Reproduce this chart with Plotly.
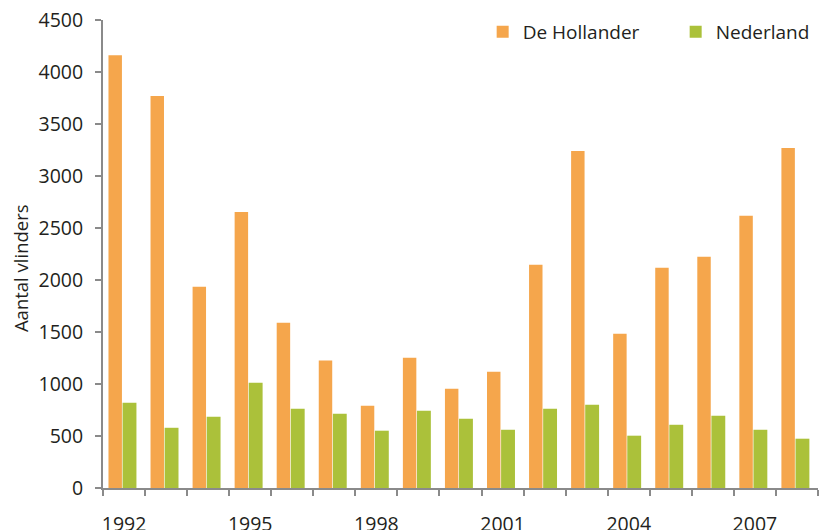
import plotly.graph_objects as go

years = list(range(1992, 2009))
de_hollander = [4160, 3770, 1935, 2655, 1590, 1225, 790, 1252, 955, 1118, 2146, 3240, 1483, 2117, 2223, 2617, 3270]
nederland = [820, 579, 685, 1012, 762, 714, 551, 743, 666, 560, 762, 800, 503, 608, 695, 560, 474]
label_years = [1992, 1995, 1998, 2001, 2004, 2007]
y_ticks = [0, 500, 1000, 1500, 2000, 2500, 3000, 3500, 4000, 4500]

ORANGE = "#F5A64C"
GREEN = "#ABC13A"
AXIS = "#8a8a8a"
TEXT = "#231F20"
FONT = "Open Sans"

fig = go.Figure()
fig.add_trace(go.Bar(x=years, y=de_hollander, name="De Hollander",
                     marker=dict(color=ORANGE, line=dict(width=0)),
                     width=0.32, offset=-0.37))
fig.add_trace(go.Bar(x=years, y=nederland, name="Nederland",
                     marker=dict(color=GREEN, line=dict(width=0)),
                     width=0.33, offset=-0.035))

fig.update_layout(
    width=827, height=530,
    margin=dict(l=95, r=17, t=12, b=50, autoexpand=False),
    paper_bgcolor="white", plot_bgcolor="white",
    font=dict(family=FONT, size=19, color=TEXT),
    barmode="overlay",
    showlegend=True,
    legend=dict(orientation="h", x=0.531, y=1.015, xanchor="left", yanchor="top",
                font=dict(size=19, color=TEXT), bgcolor="rgba(0,0,0,0)",
                itemwidth=30, traceorder="normal",
                entrywidth=148, entrywidthmode="pixels"),
    xaxis=dict(
        range=[years[0] - 0.5, years[-1] + 0.5],
        tickmode="array", tickvals=label_years, ticktext=[str(y) for y in label_years],
        ticks="outside", ticklen=0, ticklabelstandoff=18,
        ticklabeloverflow="allow",
        showline=True, linecolor=AXIS, linewidth=2,
        showgrid=False, zeroline=False, automargin=False,
        minor=dict(tickmode="array", tickvals=[y - 0.5 for y in years] + [years[-1] + 0.5],
                   ticks="outside", ticklen=6, tickcolor=AXIS, tickwidth=2, showgrid=False),
        tickfont=dict(size=19.5, color=TEXT),
    ),
    yaxis=dict(
        range=[0, 4500], tickmode="array", tickvals=y_ticks,
        ticks="outside", ticklen=6, tickcolor=AXIS, tickwidth=2,
        ticklabelstandoff=8, automargin=False,
        ticklabeloverflow="allow",
        showline=True, linecolor=AXIS, linewidth=2,
        showgrid=False, zeroline=False,
        tickfont=dict(size=19.5, color=TEXT),
    ),
    annotations=[dict(text="Aantal vlinders", textangle=-90, xref="paper", yref="paper",
                      x=-0.116, y=0.47, xanchor="center", yanchor="middle", showarrow=False,
                      font=dict(size=18.5, color=TEXT))],
)

fig.write_html("out.html")
